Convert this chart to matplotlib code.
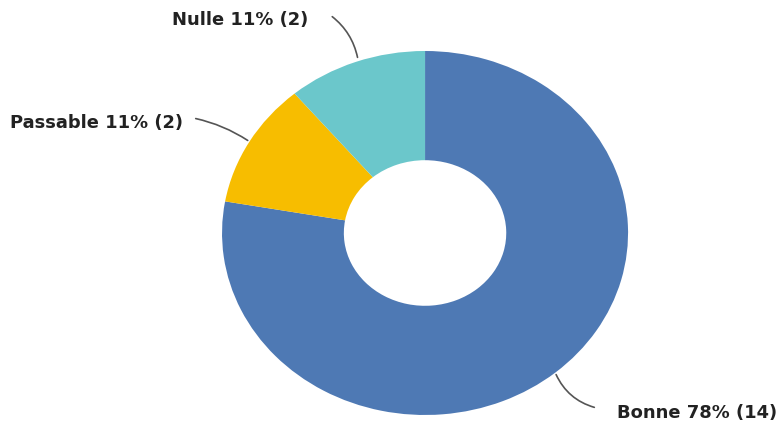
import matplotlib.pyplot as plt

categories = ['Bonne', 'Passable', 'Nulle']
counts = [14, 2, 2]
percents = ['78%', '11%', '11%']
colors = ['#4E79B4', '#F7BD00', '#6BC7CB']

fig = plt.figure(figsize=(7.84, 4.30), dpi=100)
ax = fig.add_axes([0.2832, 0.0349, 0.5179, 0.8465])

ax.pie(counts, colors=colors, startangle=90, counterclock=False,
       radius=1, wedgeprops=dict(width=0.6, edgecolor='none'))
ax.set_aspect('auto')
ax.set_xlim(-1, 1)
ax.set_ylim(-1, 1)

# label positions (text anchor, line start, line end on the ring)
label_pos = {
    'Bonne': ((0.946, -0.989), 'left', (0.847, -0.962), (0.640, -0.764), -0.25),
    'Passable': ((-1.192, 0.604), 'right', (-1.143, 0.632), (-0.862, 0.50), -0.1),
    'Nulle': ((-0.576, 1.17), 'right', (-0.468, 1.198), (-0.33, 0.95), -0.2),
}

for cat, n, p in zip(categories, counts, percents):
    txt, ha, l0, l1, rad = label_pos[cat]
    ax.text(txt[0], txt[1], f'{cat} {p} ({n})', ha=ha, va='center',
            fontsize=12.9, fontweight='bold', family='DejaVu Sans',
            color='#222222', clip_on=False)
    ax.annotate('', xy=l1, xytext=l0, annotation_clip=False,
                arrowprops=dict(arrowstyle='-', color='#555555', lw=1.2,
                                connectionstyle=f'arc3,rad={rad}'))

fig.savefig('out.png', dpi=100)
